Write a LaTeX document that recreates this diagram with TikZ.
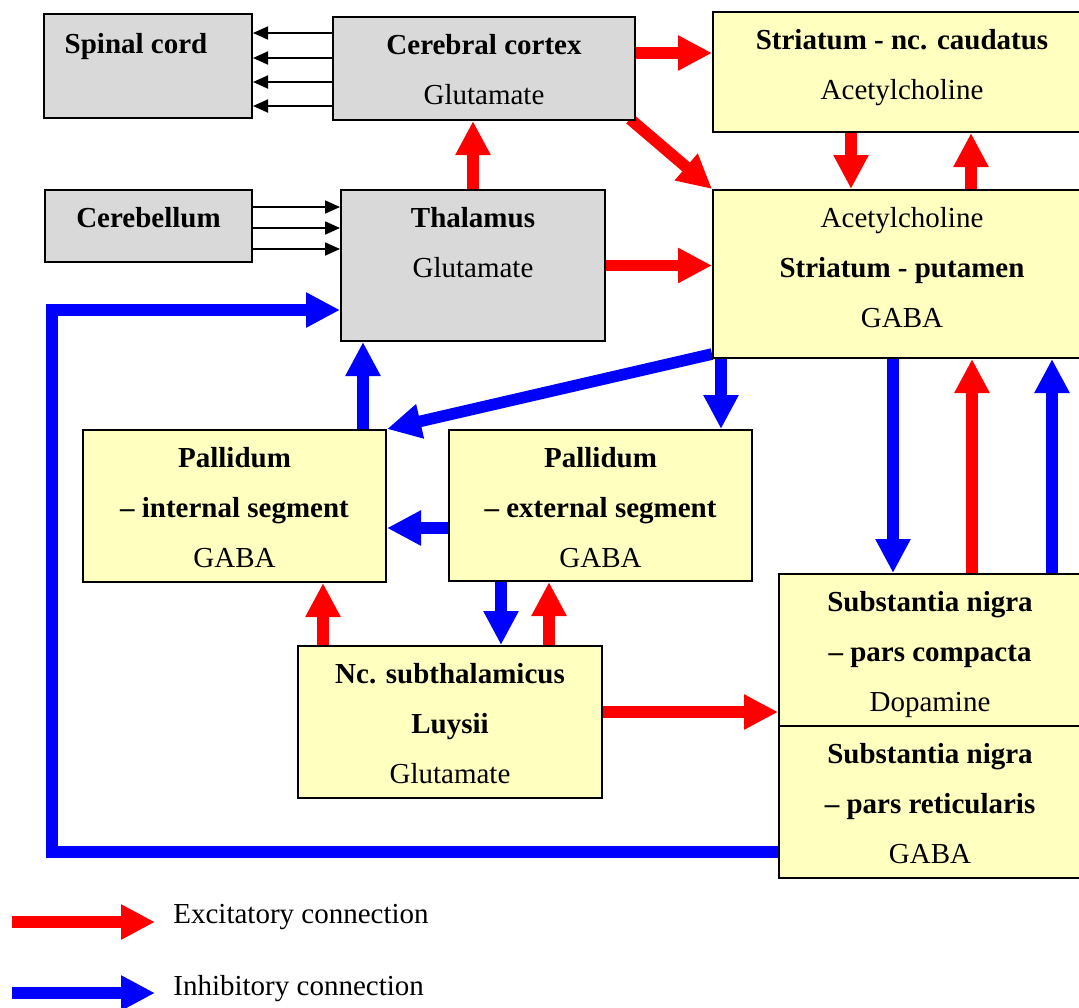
\documentclass[tikz,border=0pt]{standalone}
\usepackage{fontspec}
\setmainfont{Liberation Serif}
\usetikzlibrary{arrows.meta,backgrounds}
\definecolor{bgGray}{HTML}{D9D9D9}
\definecolor{bgYellow}{HTML}{FFFFC0}
\definecolor{exRed}{HTML}{FF0000}
\definecolor{inBlue}{HTML}{0000FF}
\tikzset{
 circuit/.style={x=.5pt,y=-.5pt,font=\fontsize{14.5}{25}\selectfont,line join=miter},
 box/.style={rectangle,draw=black,line width=1pt,inner sep=0pt},
 greybox/.style={box,fill=bgGray},
 yellowbox/.style={box,fill=bgYellow},
 txt/.style={anchor=north,align=center,inner sep=0pt,yshift=-9pt},
 excite/.style={draw=exRed,line width=5.8pt,-{Triangle[length=17pt,width=16.5pt]}},
 inhibit/.style={draw=inBlue,line width=5.8pt,-{Triangle[length=17pt,width=16.5pt]}},
 fibre/.style={draw=black,line width=.9pt,-{Triangle[length=7.5pt,width=6.5pt]}},
 legend/.style={anchor=base west,inner sep=0pt}
}

\begin{document}
\begin{tikzpicture}[circuit]
 \useasboundingbox (0,0) rectangle (1079,1007);
 \begin{scope}
 \clip (0,0) rectangle (1079,1007);
 % grey boxes
 \node[greybox,minimum width=104pt,minimum height=52pt] (spinal) at (148,66) {};
 \node[greybox,minimum width=151pt,minimum height=51.5pt] (cortex) at (484,68.5) {};
 \node[greybox,minimum width=103.5pt,minimum height=36pt] (cereb) at (148.5,226) {};
 \node[greybox,minimum width=132pt,minimum height=75.5pt] (thal) at (473,265.5) {};
 % yellow boxes
 \node[yellowbox,minimum width=189pt,minimum height=60pt] (caud) at (902,72) {};
 \node[yellowbox,minimum width=189pt,minimum height=84pt] (put) at (902,274) {};
 \node[yellowbox,minimum width=151.5pt,minimum height=76pt] (gpi) at (234.5,506) {};
 \node[yellowbox,minimum width=151.5pt,minimum height=75.5pt] (gpe) at (600.5,505.5) {};
 \node[yellowbox,minimum width=152pt,minimum height=76pt] (stn) at (450,722) {};
 \node[yellowbox,minimum width=151pt,minimum height=76pt] (snc) at (930,650) {};
 \node[yellowbox,minimum width=151pt,minimum height=76pt] (snr) at (930,802) {};
 % texts
 \node[txt,xshift=-6pt,yshift=-1pt] (spinal-t) at (spinal.north) {\textbf{Spinal cord}};
 \node[txt] (cortex-t) at (cortex.north) {\textbf{Cerebral cortex}\\Glutamate};
 \node[txt] (cereb-t) at (cereb.north) {\textbf{Cerebellum}};
 \node[txt] (thal-t) at (thal.north) {\textbf{Thalamus}\\Glutamate};
 \node[txt] (caud-t) at (caud.north) {\textbf{Striatum - nc. caudatus}\\Acetylcholine};
 \node[txt] (put-t) at (put.north) {Acetylcholine\\\textbf{Striatum - putamen}\\GABA};
 \node[txt] (gpi-t) at (gpi.north) {\textbf{Pallidum}\\\textbf{-- internal segment}\\GABA};
 \node[txt] (gpe-t) at (gpe.north) {\textbf{Pallidum}\\\textbf{-- external segment}\\GABA};
 \node[txt] (stn-t) at (stn.north) {\textbf{Nc. subthalamicus}\\\textbf{Luysii}\\Glutamate};
 \node[txt] (snc-t) at (snc.north) {\textbf{Substantia nigra}\\\textbf{-- pars compacta}\\Dopamine};
 \node[txt] (snr-t) at (snr.north) {\textbf{Substantia nigra}\\\textbf{-- pars reticularis}\\GABA};
 \end{scope}
 % connectors, under the boxes
 \begin{scope}[on background layer]
 \foreach \y in {33,58,82,106}
   \draw[fibre] (cortex.west |- 0,\y) -- (spinal.east |- 0,\y);
 \foreach \y in {207,228,249}
   \draw[fibre] (cereb.east |- 0,\y) -- (thal.west |- 0,\y);
 \draw[excite] (cortex.east |- 0,53) -- (caud.west |- 0,53);
 \draw[excite] ([xshift=-3pt,yshift=1pt]cortex.south east) -- (put.north west);
 \draw[excite] (thal.north) -- (thal.north |- cortex.south);
 \draw[excite] (thal.east) -- (thal.east -| put.west);
 \draw[excite] (caud.south -| 851,0) -- (put.north -| 851,0);
 \draw[excite] (put.north -| 971,0) -- (caud.south -| 971,0);
 \coordinate (bend) at (52,310);
 \draw[inhibit] (snr.west |- 0,852) -| (bend) -- (thal.west |- bend);
 \draw[inhibit] (gpi.north -| 363,0) -- (thal.south -| 363,0);
 \draw[inhibit] ([yshift=2.5pt]put.south west) -- (gpi.north east);
 \draw[inhibit] (put.south -| 721,0) -- (gpe.north -| 721,0);
 \draw[inhibit] (gpe.west |- 0,528) -- (gpi.east |- 0,528);
 \draw[inhibit] (gpe.south -| 501,0) -- (stn.north -| 501,0);
 \draw[excite] (stn.north -| 549,0) -- (gpe.south -| 549,0);
 \draw[excite] (stn.north -| 323,0) -- (gpi.south -| 323,0);
 \draw[excite] (stn.east |- 0,712) -- (snc.west |- 0,712);
 \draw[inhibit] (put.south -| 893,0) -- (snc.north -| 893,0);
 \draw[excite] (snc.north -| 972,0) -- (put.south -| 972,0);
 \draw[inhibit] (snc.north -| 1052,0) -- (put.south -| 1052,0);
 \end{scope}
 % legend
 \coordinate (exA) at (12,922); \coordinate (exB) at (155,922);
 \coordinate (inA) at (12,993); \coordinate (inB) at (155,993);
 \draw[excite] (exA) -- (exB);
 \draw[inhibit] (inA) -- (inB);
 \node[legend] (exT) at (173,923) {Excitatory connection};
 \node[legend] (inT) at (173,995) {Inhibitory connection};
\end{tikzpicture}
\end{document}
